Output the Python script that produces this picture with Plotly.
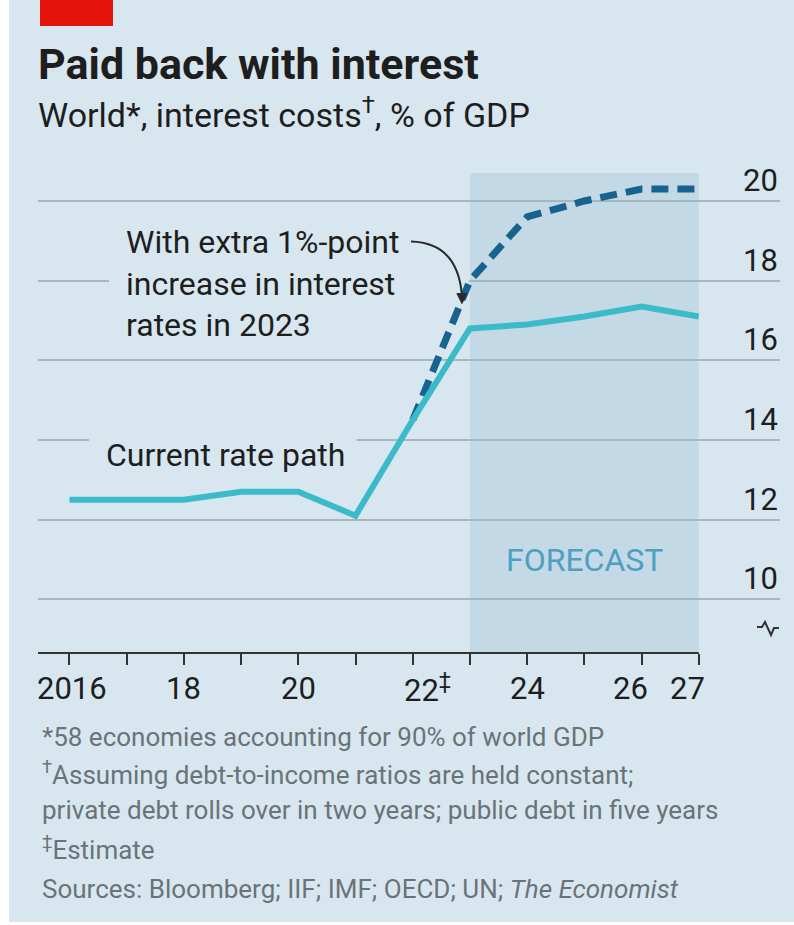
import plotly.graph_objects as go

# ---------------- data ----------------
years = [2016, 2017, 2018, 2019, 2020, 2021, 2022, 2023, 2024, 2025, 2026, 2027]
current_rate_path = [12.5, 12.5, 12.5, 12.7, 12.7, 12.1, 14.5, 16.8, 16.9, 17.1, 17.35, 17.1]
extra_years = [2022, 2023, 2024, 2025, 2026, 2027]
extra_rate_path = [14.5, 18.0, 19.6, 20.0, 20.3, 20.3]
x_tick_labels = ["2016", "", "18", "", "20", "", "22<sup>‡</sup>", "", "24", "", "26", "27"]
y_tick_vals = [10, 12, 14, 16, 18, 20]
y_tick_labels = ["10", "12", "14", "16", "18", "20"]
forecast_start, forecast_end = 2023, 2027

# ---------------- style ----------------
W, H = 794, 925
ML, MR, MT, MB = 38, 14, 161, 272
PW, PH = W - ML - MR, H - MT - MB
XR = [2015.45, 2028.42]
YR = [8.652, 21.004]
BG = "#d8e7ef"
SHADE = "#c3d9e5"
GRID = "#a7b7c0"
TXT = "#1e1e1e"
GREY = "#6a7378"
CYAN = "#3bbac9"
NAVY = "#17628f"
FONT = "Roboto, 'Liberation Sans', Arial, sans-serif"


def xp(px):
    return (px - ML) / PW


def yp(py):
    return (MT + PH - py) / PH


fig = go.Figure()

fig.add_trace(go.Scatter(
    x=extra_years, y=extra_rate_path, mode="lines",
    line=dict(color=NAVY, width=7, dash="17px,9px"),
    hoverinfo="skip", showlegend=False))
fig.add_trace(go.Scatter(
    x=years, y=current_rate_path, mode="lines",
    line=dict(color=CYAN, width=6),
    hoverinfo="skip", showlegend=False))

shapes = []
# card background with white left/bottom edges
shapes.append(dict(type="rect", xref="paper", yref="paper",
                   x0=xp(9), x1=xp(W + 5), y0=yp(922), y1=yp(-5),
                   fillcolor=BG, line=dict(width=0), layer="below"))
# red tag
shapes.append(dict(type="rect", xref="paper", yref="paper",
                   x0=xp(40), x1=xp(113), y0=yp(26), y1=yp(-5),
                   fillcolor="#e3120b", line=dict(width=0), layer="above"))
# forecast shading
shapes.append(dict(type="rect", xref="x", yref="y",
                   x0=forecast_start, x1=forecast_end, y0=YR[0], y1=20.7,
                   fillcolor=SHADE, line=dict(width=0), layer="below"))
# gaps in gridlines behind labels
shapes.append(dict(type="rect", xref="x", yref="y",
                   x0=2016.69, x1=2022.98, y0=17.7, y1=18.3,
                   fillcolor=BG, line=dict(width=0), layer="between"))
shapes.append(dict(type="rect", xref="x", yref="y",
                   x0=2016.34, x1=2021.02, y0=13.7, y1=14.3,
                   fillcolor=BG, line=dict(width=0), layer="between"))
# baseline
shapes.append(dict(type="line", xref="x", yref="paper",
                   x0=XR[0], x1=2027, y0=0, y1=0,
                   line=dict(color="#333333", width=2), layer="above"))
# curved pointer
shapes.append(dict(type="path", xref="x", yref="y",
                   path="M 2021.97,18.98 Q 2022.79,18.95 2022.86,17.62",
                   line=dict(color="#2a2a2a", width=2), layer="above"))
# pointer head
shapes.append(dict(type="path", xref="x", yref="y",
                   xsizemode="pixel", ysizemode="pixel",
                   xanchor=2022.86, yanchor=17.45,
                   path="M-5,9 L5,9 L0,-1 Z",
                   fillcolor="#2a2a2a", line=dict(color="#2a2a2a", width=1),
                   layer="above"))
# axis break symbol
shapes.append(dict(type="path", xref="x", yref="y",
                   xsizemode="pixel", ysizemode="pixel",
                   xanchor=2028.21, yanchor=9.28,
                   path="M-11,1 L-6,1 L-3,6 L3,-7 L6,0 L11,0",
                   line=dict(color="#333333", width=2), layer="above"))

ann = []
ann.append(dict(text="<b>Paid back with interest</b>", xref="paper", yref="paper",
                x=xp(36), y=yp(64), xanchor="left", yanchor="middle",
                showarrow=False, font=dict(family=FONT, size=43, color=TXT)))
ann.append(dict(text="World*, interest costs<sup>†</sup>, % of GDP", xref="paper", yref="paper",
                x=xp(36), y=yp(113), xanchor="left", yanchor="middle",
                showarrow=False, font=dict(family=FONT, size=34, color=TXT)))

# y labels
for v, t in zip(y_tick_vals, y_tick_labels):
    ann.append(dict(text=t, xref="paper", yref="y", x=xp(780), y=v,
                    xanchor="right", yanchor="bottom", yshift=0,
                    showarrow=False, font=dict(family=FONT, size=31, color=TXT)))

# x labels
x_shift = {2016: 3, 2022: 15, 2026: -11, 2027: -11}
for v, t in zip(years, x_tick_labels):
    if t:
        ann.append(dict(text=t, xref="x", yref="paper", x=v, y=yp(688),
                        xanchor="center", yanchor="middle", xshift=x_shift.get(v, 0),
                        showarrow=False, font=dict(family=FONT, size=31, color=TXT)))

ann.append(dict(text="With extra 1%-point<br>increase in interest<br>rates in 2023",
                xref="x", yref="y", x=2016.95, y=17.94, xanchor="left", yanchor="middle",
                align="left", showarrow=False,
                font=dict(family=FONT, size=32, color=TXT)))
ann.append(dict(text="Current rate path", xref="x", yref="y", x=2016.6, y=13.62,
                xanchor="left", yanchor="middle", showarrow=False,
                font=dict(family=FONT, size=32, color=TXT)))
ann.append(dict(text="FORECAST", xref="x", yref="y", x=2025, y=10.99,
                xanchor="center", yanchor="middle", showarrow=False,
                font=dict(family=FONT, size=32, color="#4e9fc2")))

notes = [
    ("*58 economies accounting for 90% of world GDP", 737),
    ("<sup>†</sup>Assuming debt-to-income ratios are held constant;", 773),
    ("private debt rolls over in two years; public debt in five years", 810),
    ("<sup>‡</sup>Estimate", 848),
    ("Sources: Bloomberg; IIF; IMF; OECD; UN; <i>The Economist</i>", 889),
]
for t, py in notes:
    ann.append(dict(text=t, xref="paper", yref="paper", x=xp(40), y=yp(py),
                    xanchor="left", yanchor="middle", showarrow=False,
                    font=dict(family=FONT, size=26, color=GREY)))

fig.update_layout(
    width=W, height=H,
    margin=dict(l=ML, r=MR, t=MT, b=MB, pad=0),
    paper_bgcolor="white", plot_bgcolor=BG,
    showlegend=False,
    shapes=shapes, annotations=ann,
    xaxis=dict(range=XR, showgrid=False, zeroline=False, showline=False,
               tickvals=years, showticklabels=False, ticks="outside",
               ticklen=11, tickwidth=2, tickcolor="#333333", fixedrange=True),
    yaxis=dict(range=YR, showgrid=True, gridcolor=GRID, gridwidth=2,
               tickvals=y_tick_vals, showticklabels=False, zeroline=False,
               showline=False, ticks="", fixedrange=True),
)

fig.write_html("out.html", config={"displayModeBar": False},
               post_script="document.body.style.margin='0';document.body.style.padding='0';")
